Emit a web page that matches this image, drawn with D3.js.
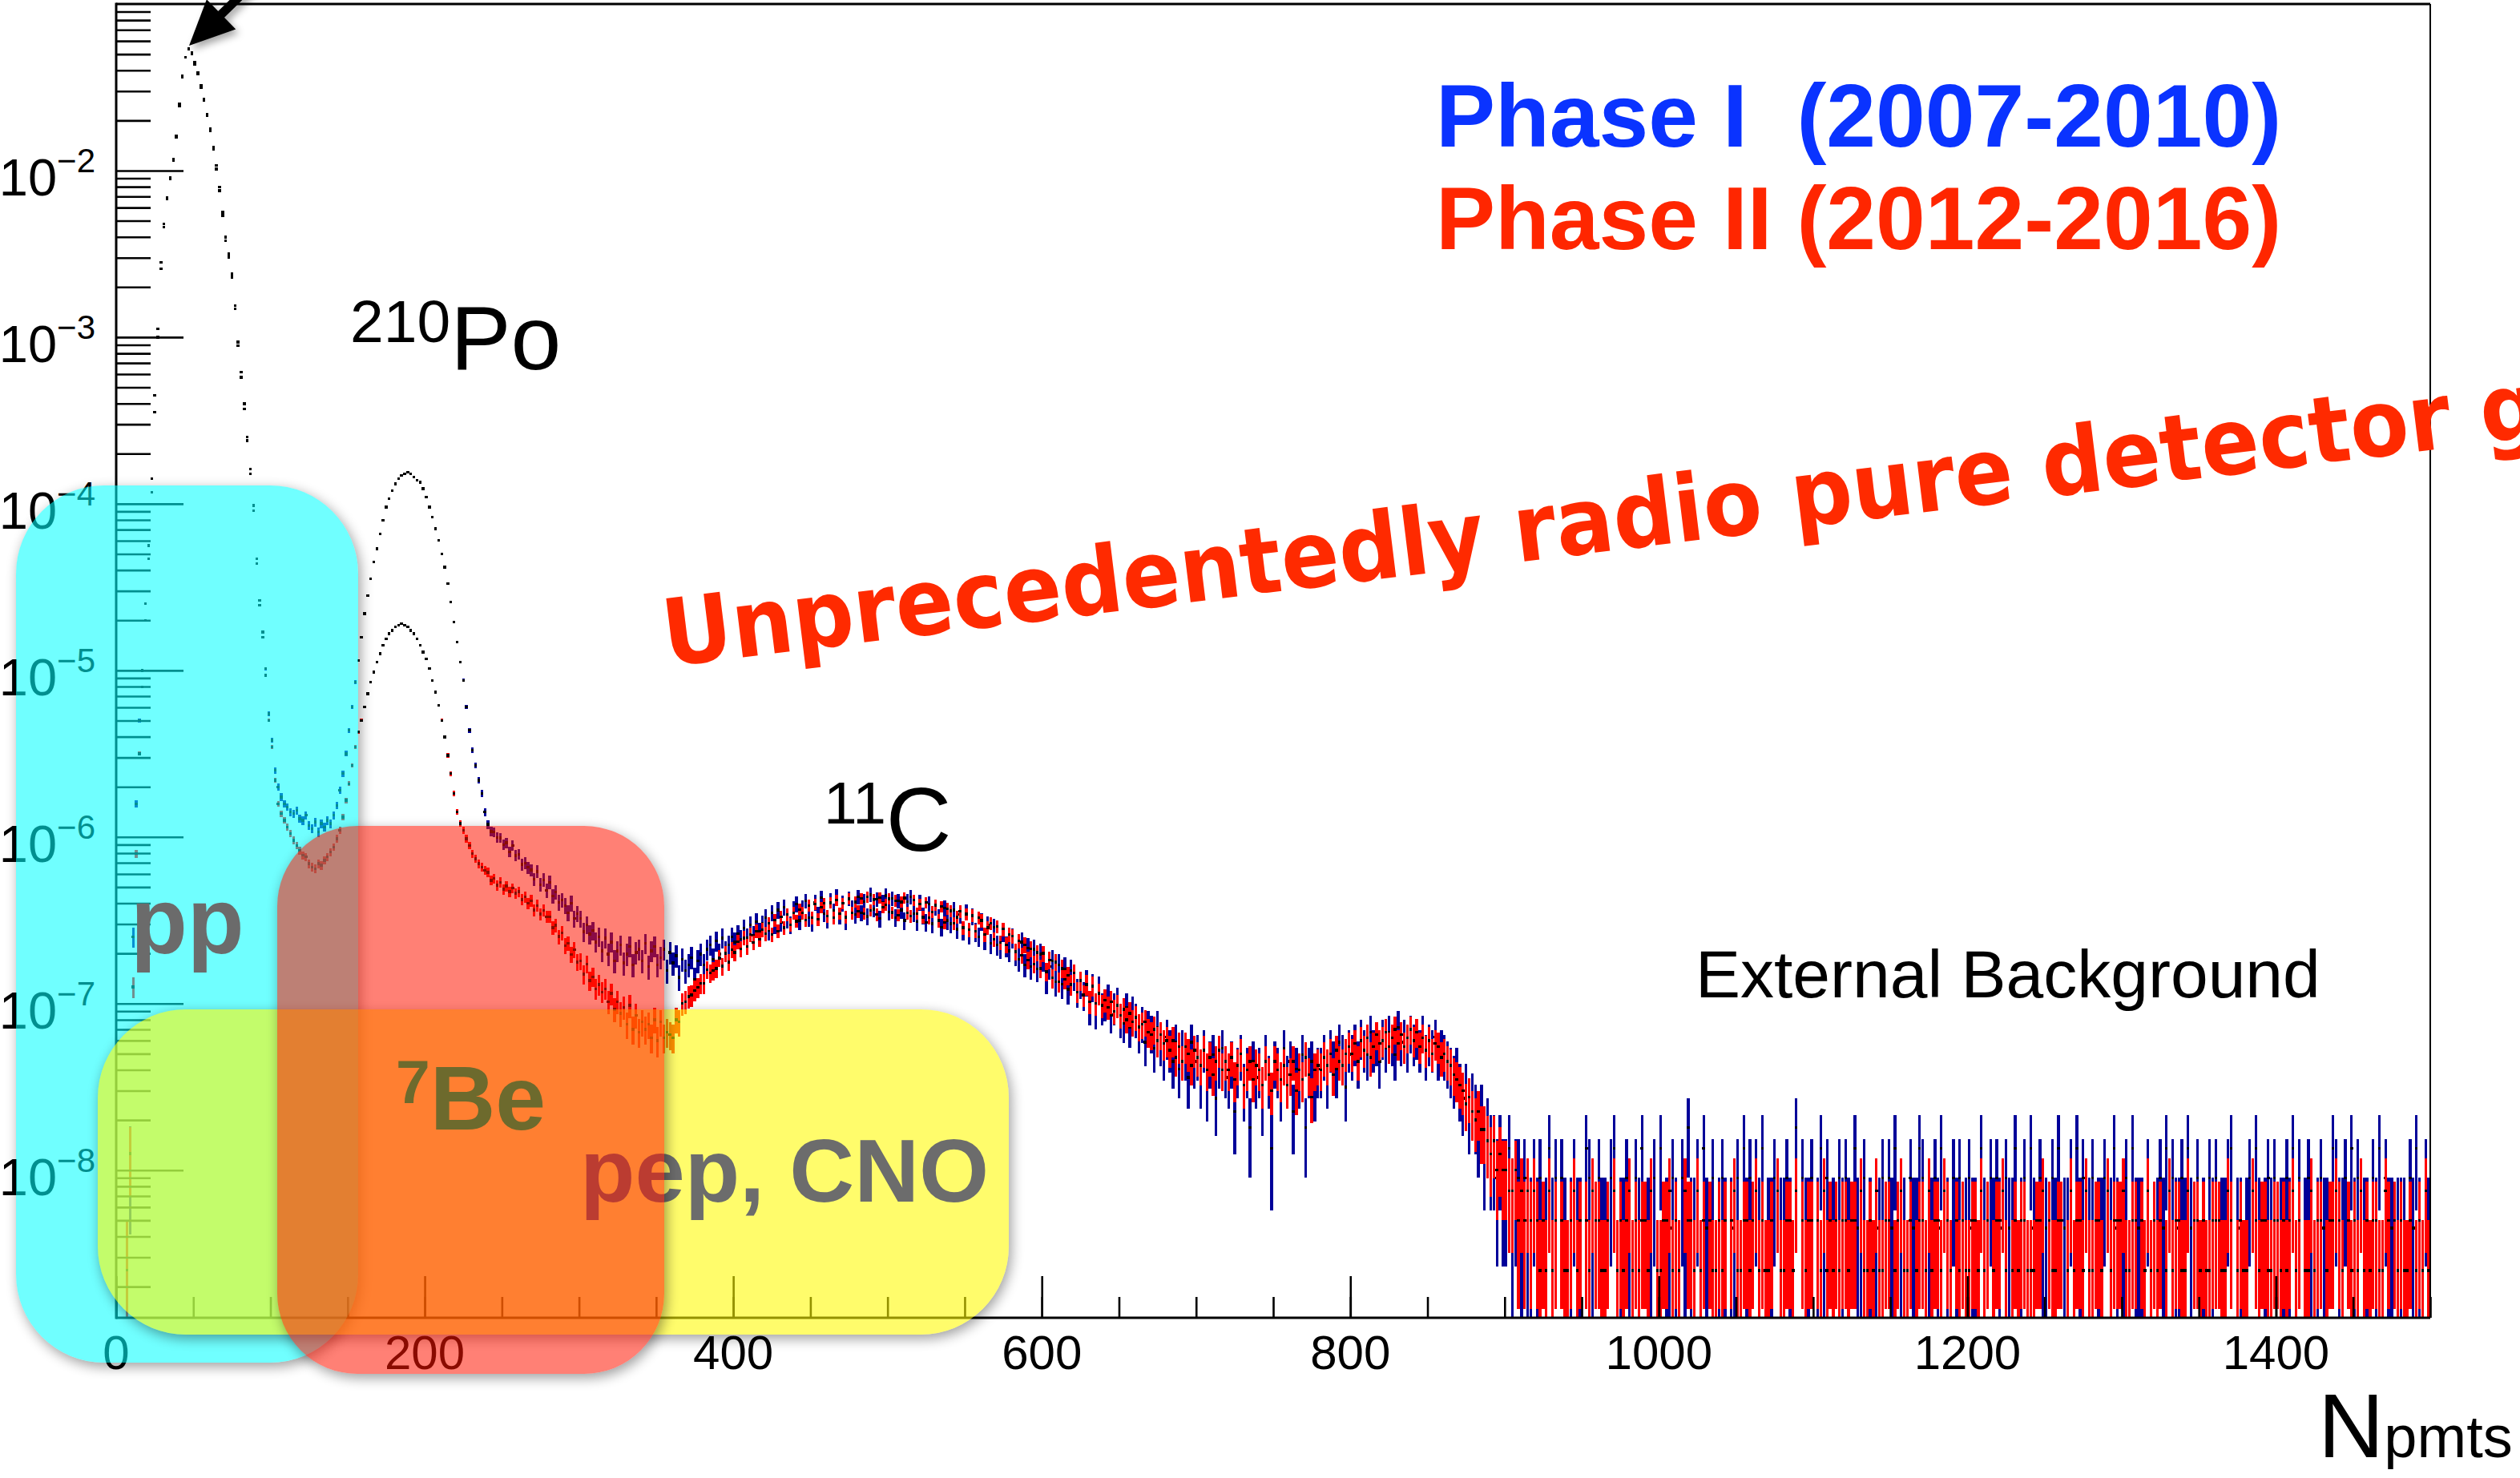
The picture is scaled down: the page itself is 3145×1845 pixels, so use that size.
<!DOCTYPE html>
<html>
<head>
<meta charset="utf-8">
<script src="https://cdn.jsdelivr.net/npm/d3@7"></script>
<style>
  html, body { margin: 0; padding: 0; background: #fff; }
  svg { display: block; }
</style>
</head>
<body>
<div id="chart"></div>
<script>
// ---------------- data ----------------
const binWidth = 2;            // Npmts per bin
const eventWeight1 = 4.5e-9;   // content of one event, Phase I
const eventWeight2 = 2.5e-9;   // content of one event, Phase II

// log10(bin content), bins 0..240 (centres 1,3,...,239); null = empty bin
const phase1LowLog = [
  null, null, null, null, -7.95, -6.60, -5.80, -5.30, -5.00, -4.60,
  -4.25, -3.85, -3.35, -2.95, -2.55, -2.32, -2.16, -2.04, -1.93, -1.79,
  -1.60, -1.43, -1.32, -1.27, -1.29, -1.35, -1.41, -1.49, -1.57, -1.66,
  -1.75, -1.86, -1.97, -2.10, -2.25, -2.40, -2.50, -2.62, -2.81, -3.03,
  -3.21, -3.40, -3.60, -3.79, -4.01, -4.33, -4.58, -4.77, -4.99, -5.26,
  -5.42, -5.60, -5.70, -5.76, -5.80, -5.82, -5.85, -5.86, -5.84, -5.89,
  -5.90, -5.87, -5.93, -5.95, -5.91, -5.97, -5.92, -5.94, -5.90, -5.92,
  -5.87, -5.81, -5.72, -5.62, -5.50, -5.36, -5.22, -5.07, -4.94, -4.80,
  -4.66, -4.55, -4.45, -4.35, -4.27, -4.18, -4.10, -4.02, -3.97, -3.92,
  -3.88, -3.85, -3.83, -3.82, -3.81, -3.82, -3.84, -3.86, -3.87, -3.91,
  -3.96, -4.02, -4.08, -4.15, -4.22, -4.30, -4.38, -4.48, -4.59, -4.71,
  -4.83, -4.95, -5.06, -5.22, -5.36, -5.48, -5.57, -5.66, -5.74, -5.85
];
const phase2LowLog = [
  null, null, null, -8.60, -7.90, -6.90, -6.10, -5.50, -5.10, -4.70,
  -4.33, -3.93, -3.45, -3.00, -2.59, -2.34, -2.17, -2.05, -1.94, -1.80,
  -1.61, -1.44, -1.32, -1.27, -1.30, -1.36, -1.42, -1.50, -1.58, -1.67,
  -1.76, -1.87, -1.99, -2.12, -2.27, -2.42, -2.52, -2.64, -2.83, -3.05,
  -3.24, -3.43, -3.62, -3.82, -4.04, -4.36, -4.61, -4.80, -5.03, -5.30,
  -5.46, -5.66, -5.80, -5.86, -5.90, -5.94, -5.98, -6.02, -6.05, -6.08,
  -6.11, -6.12, -6.16, -6.18, -6.19, -6.16, -6.17, -6.14, -6.12, -6.09,
  -6.06, -6.01, -5.96, -5.88, -5.78, -5.68, -5.57, -5.46, -5.37, -5.30,
  -5.22, -5.14, -5.07, -5.01, -4.95, -4.90, -4.85, -4.81, -4.78, -4.76,
  -4.74, -4.73, -4.72, -4.73, -4.74, -4.76, -4.78, -4.81, -4.85, -4.89,
  -4.93, -4.99, -5.06, -5.13, -5.21, -5.30, -5.40, -5.51, -5.62, -5.74,
  -5.85, -5.92, -5.96, -6.01, -6.05, -6.10, -6.13, -6.16, -6.18, -6.20
];

// event counts, bins 240..920 (centres 241,...,919)
const phase1MidCounts = [
  265, 240, 238, 221, 219, 200, 205, 181, 197, 172,
  175, 152, 155, 146, 141, 124, 138, 115, 123, 106,
  119, 98, 104, 90, 93, 86, 78, 89, 72, 77,
  72, 60, 66, 58, 61, 52, 56, 46, 55, 44,
  52, 40, 46, 50, 39, 44, 49, 38, 45, 47,
  40, 51, 37, 46, 49, 38, 42, 47, 35, 45,
  39, 43, 32, 41, 35, 38, 42, 31, 40, 44,
  38, 47, 50, 41, 53, 44, 55, 46, 50, 56,
  52, 58, 54, 63, 55, 66, 57, 69, 60, 67,
  73, 61, 78, 66, 81, 68, 84, 71, 66, 82,
  88, 70, 83, 92, 73, 68, 90, 76, 96, 77,
  71, 93, 80, 98, 75, 89, 70, 95, 83, 76,
  97, 78, 91, 74, 100, 82, 94, 72, 90, 99,
  79, 95, 73, 92, 81, 70, 91, 97, 77, 69,
  90, 75, 68, 88, 67, 84, 73, 64, 83, 70,
  67, 81, 62, 76, 61, 79, 58, 74, 60, 56,
  69, 54, 66, 51, 64, 50, 48, 60, 49, 46,
  55, 44, 41, 52, 38, 48, 37, 47, 36, 44,
  41, 31, 37, 40, 30, 38, 29, 36, 27, 35,
  32, 26, 29, 25, 30, 21, 28, 20, 27, 21,
  22, 24, 19, 21, 23, 18, 17, 21, 16, 20,
  18, 15, 17, 13, 16, 15, 12, 16, 13, 11,
  14, 12, 10, 13, 9, 12, 11, 8, 13, 10,
  11, 8, 12, 7, 10, 11, 6, 10, 12, 9,
  8, 10, 5, 9, 11, 7, 9, 4, 10, 8,
  9, 6, 11, 8, 3, 10, 9, 7, 12, 8,
  10, 5, 9, 8, 11, 4, 9, 10, 7, 9,
  9, 11, 8, 12, 10, 9, 13, 11, 7, 12,
  11, 13, 10, 14, 12, 11, 15, 12, 13, 10,
  14, 12, 15, 13, 11, 16, 13, 14, 12, 15,
  13, 14, 12, 15, 11, 13, 12, 14, 11, 12,
  11, 10, 9, 8, 9, 7, 6, 7, 5, 6,
  5, 4, 5, 3, 4, 3, 3, 2, 3, 2,
  2, 3, 1, 2, 2, 1, 2, 1, 1, 2
];
const phase2MidCounts = [
  245, 220, 226, 205, 214, 194, 203, 188, 197, 184,
  188, 168, 175, 160, 166, 146, 155, 138, 145, 133,
  133, 114, 118, 101, 106, 89, 92, 79, 84, 71,
  72, 60, 69, 55, 58, 49, 52, 47, 49, 41,
  46, 37, 41, 35, 38, 30, 39, 28, 34, 27,
  31, 28, 30, 25, 32, 24, 31, 25, 27, 26,
  25, 32, 31, 40, 41, 44, 45, 48, 50, 53,
  53, 64, 61, 63, 65, 75, 67, 80, 71, 84,
  81, 94, 85, 99, 88, 104, 93, 109, 97, 111,
  105, 121, 104, 127, 109, 133, 114, 137, 119, 140,
  125, 147, 140, 127, 155, 131, 158, 128, 151, 160,
  134, 161, 131, 167, 139, 160, 132, 170, 140, 163,
  143, 171, 139, 175, 145, 168, 137, 173, 151, 157,
  170, 141, 166, 136, 163, 172, 140, 134, 167, 139,
  158, 132, 162, 131, 142, 156, 126, 153, 123, 148,
  144, 121, 132, 143, 114, 138, 111, 135, 109, 131,
  126, 104, 114, 121, 97, 116, 93, 112, 90, 104,
  102, 82, 95, 78, 90, 73, 85, 69, 81, 65,
  80, 62, 73, 57, 71, 54, 65, 56, 59, 52,
  61, 47, 55, 45, 52, 41, 51, 40, 46, 39,
  42, 38, 41, 36, 39, 34, 37, 32, 35, 31,
  33, 29, 30, 31, 27, 26, 28, 24, 26, 23,
  24, 21, 24, 19, 22, 18, 22, 20, 17, 21,
  19, 17, 21, 16, 19, 15, 18, 21, 16, 18,
  16, 19, 14, 17, 20, 13, 16, 18, 14, 17,
  16, 13, 18, 15, 12, 18, 16, 14, 17, 13,
  15, 18, 12, 16, 14, 19, 15, 11, 16, 17,
  16, 19, 17, 20, 15, 21, 18, 17, 20, 22,
  20, 23, 18, 24, 21, 25, 19, 22, 26, 23,
  24, 27, 22, 25, 28, 23, 26, 22, 25, 28,
  24, 27, 22, 25, 21, 24, 20, 23, 22, 19,
  20, 18, 17, 15, 14, 13, 12, 10, 11, 9,
  8, 9, 7, 7, 6, 5, 6, 4, 5, 4,
  4, 3, 3, 4, 2, 3, 2, 3, 2, 3
];

// event counts, flat external-background tail, bins 920..1500
const phase1TailCounts = [
  1,2,0,1,3,1,2,0,2,1, 0,1,2,1,1,0,3,2,1,0, 2,1,1,0,2,3,0,1,1,2, 1,0,2,1,3,0,1,1,2,0,
  3,0,1,1,2,1,0,2,1,4, 1,1,2,0,3,1,0,2,0,1, 2,1,0,1,1,2,0,3,1,2, 0,2,1,3,0,1,1,2,0,1,
  1,2,1,0,4,0,2,1,1,2, 0,1,3,1,2,0,1,0,2,1, 2,1,0,3,1,1,2,0,1,0, 1,1,2,0,2,1,3,0,1,1,
  0,2,1,1,3,2,0,1,1,2, 1,3,0,1,0,2,1,2,0,1, 2,1,1,0,3,1,0,2,1,2, 1,0,2,1,1,3,0,1,2,0,
  3,1,0,2,1,1,0,2,1,3, 0,1,1,2,0,3,1,2,0,1, 2,0,1,1,2,0,1,3,1,0, 1,2,0,3,1,1,1,0,2,0,
  0,1,2,1,3,0,2,1,1,2, 1,3,1,0,2,0,1,0,2,1, 2,0,1,1,2,3,0,1,1,0, 1,2,0,3,1,0,1,2,1,2,
  0,1,1,2,1,3,0,2,0,1, 2,1,0,1,2,1,1,0,3,2, 1,1,2,0,3,1,2,0,1,1, 0,2,1,3,0,2,1,1,0,1,
  1,1,0,2,1,3,1,0,2,1
];
const phase2TailCounts = [
  2,1,2,1,3,1,2,0,2,1, 1,2,3,1,2,0,2,1,3,2, 2,1,1,2,0,3,1,2,1,2, 3,1,2,1,2,2,1,3,0,1,
  1,2,2,3,1,2,1,0,3,2, 2,1,3,1,2,0,2,1,1,2, 1,2,0,2,3,1,1,2,2,1, 2,3,1,2,1,1,2,0,3,1,
  1,2,2,1,3,0,2,1,2,2, 0,2,1,3,1,2,1,2,1,2, 2,1,2,2,0,3,1,1,2,1, 3,1,1,2,2,0,1,2,3,1,
  1,2,0,1,2,2,1,3,1,2, 2,1,3,2,1,0,2,1,2,1, 1,2,2,1,3,1,2,0,1,2, 2,3,1,0,1,2,1,2,2,1,
  1,1,2,2,3,0,2,1,1,2, 2,0,1,3,1,2,2,1,3,1, 1,2,2,1,0,3,1,2,2,2, 3,1,1,2,2,0,2,1,3,1,
  2,1,2,0,1,3,1,2,2,1, 1,3,0,2,2,1,2,1,1,2, 2,2,1,1,3,2,0,1,2,1, 1,0,3,2,1,2,2,1,1,2,
  2,1,2,1,2,3,1,2,0,1, 1,3,1,2,2,0,1,2,2,3, 2,1,0,2,1,2,1,3,1,2, 1,2,2,1,1,3,2,0,2,1,
  2,1,1,2,0,1,2,1,3,1
];

const xTickValues = [0, 200, 400, 600, 800, 1000, 1200, 1400];
const yDecades = [-2, -3, -4, -5, -6, -7, -8];
const xDomain = [0, 1500];
const yDomain = [1.3e-9, 0.1];

// ---------------- drawing ----------------
const W = 3145, H = 1845;
const frame = { left: 145, right: 3033, top: 5, bottom: 1645 };
const helv = "'Liberation Sans', Arial, Helvetica, sans-serif";

const x = d3.scaleLinear().domain(xDomain).range([frame.left, frame.right]);
const y = d3.scaleLog().domain(yDomain).range([frame.bottom, frame.top]).clamp(true);

const svg = d3.select("#chart").append("svg")
  .attr("width", W).attr("height", H)
  .attr("viewBox", [0, 0, W, H]);
svg.append("rect").attr("width", W).attr("height", H).attr("fill", "#fff");

const defs = svg.append("defs");
defs.append("clipPath").attr("id", "plotclip")
  .append("rect")
  .attr("x", frame.left).attr("y", frame.top)
  .attr("width", frame.right - frame.left).attr("height", frame.bottom - frame.top);
const blur = defs.append("filter").attr("id", "blur")
  .attr("x", "-30%").attr("y", "-30%").attr("width", "160%").attr("height", "160%");
blur.append("feGaussianBlur").attr("stdDeviation", 8);
const drop = defs.append("filter").attr("id", "drop")
  .attr("x", "-50%").attr("y", "-10%").attr("width", "200%").attr("height", "120%");
drop.append("feDropShadow").attr("dx", 4).attr("dy", 5).attr("stdDeviation", 5)
  .attr("flood-color", "#000").attr("flood-opacity", 0.35);

function buildBins(lowLog, mid, tail, w) {
  const out = [];
  lowLog.forEach((l, i) => {
    if (l === null) return;
    const v = Math.pow(10, l);
    out.push({ c: (i + 0.5) * binWidth, v: v, n: v / w });
  });
  const start = lowLog.length;
  mid.concat(tail).forEach((n, i) => {
    if (!n) return;
    out.push({ c: (start + i + 0.5) * binWidth, v: n * w, n: n });
  });
  out.forEach(b => {
    const e = Math.sqrt(b.n) * w;
    b.hi = b.v + e;
    b.lo = Math.max(b.v - e, yDomain[0]);
  });
  return out;
}

const phase1 = buildBins(phase1LowLog, phase1MidCounts, phase1TailCounts, eventWeight1);
const phase2 = buildBins(phase2LowLog, phase2MidCounts, phase2TailCounts, eventWeight2);

const plot = svg.append("g").attr("clip-path", "url(#plotclip)");
const barW = 3.3;

function drawHist(data, color) {
  const g = plot.append("g");
  g.selectAll("rect.err").data(data).join("rect")
    .attr("class", "err")
    .attr("x", d => x(d.c) - barW / 2)
    .attr("width", barW)
    .attr("y", d => y(d.hi))
    .attr("height", d => Math.max(y(d.lo) - y(d.hi), 1.5))
    .attr("fill", color)
    .attr("shape-rendering", "crispEdges");
  g.selectAll("rect.mk").data(data).join("rect")
    .attr("class", "mk")
    .attr("x", d => x(d.c) - 1.7)
    .attr("y", d => y(d.v) - 1.7)
    .attr("width", 3.4).attr("height", 3.4)
    .attr("fill", "#000")
    .attr("shape-rendering", "crispEdges");
}
drawHist(phase1, "#000099");
drawHist(phase2, "#ff0000");

// ---- axes ----
const axes = svg.append("g");
const yMinor = [], yMajor = [];
for (let k = -9; k <= -2; k++) {
  for (let m = 1; m <= 9; m++) {
    const v = m * Math.pow(10, k);
    if (v < yDomain[0] || v > yDomain[1]) continue;
    (m === 1 ? yMajor : yMinor).push(v);
  }
}
axes.append("g").attr("transform", `translate(${frame.left},0)`)
  .call(d3.axisRight(y).tickValues(yMinor).tickSize(43).tickFormat(""))
  .call(g => g.select(".domain").remove());
axes.append("g").attr("transform", `translate(${frame.left},0)`)
  .call(d3.axisRight(y).tickValues(yMajor).tickSize(84).tickFormat(""))
  .call(g => g.select(".domain").remove());
axes.append("g").attr("transform", `translate(0,${frame.bottom})`)
  .call(d3.axisTop(x).tickValues(d3.range(0, 1501, 50)).tickSize(26).tickFormat(""))
  .call(g => g.select(".domain").remove());
axes.append("g").attr("transform", `translate(0,${frame.bottom})`)
  .call(d3.axisTop(x).tickValues(xTickValues).tickSize(52).tickFormat(""))
  .call(g => g.select(".domain").remove());
axes.selectAll(".tick line").attr("stroke", "#000").attr("stroke-width", 2.6);

// frame
axes.append("line").attr("x1", frame.left).attr("x2", frame.right)
  .attr("y1", frame.top).attr("y2", frame.top).attr("stroke", "#000").attr("stroke-width", 3);
axes.append("line").attr("x1", frame.right).attr("x2", frame.right)
  .attr("y1", frame.top).attr("y2", frame.bottom).attr("stroke", "#000").attr("stroke-width", 2);
axes.append("line").attr("x1", frame.left).attr("x2", frame.left)
  .attr("y1", frame.top - 1.5).attr("y2", frame.bottom + 1.5).attr("stroke", "#000").attr("stroke-width", 3);
axes.append("line").attr("x1", frame.left).attr("x2", frame.right)
  .attr("y1", frame.bottom).attr("y2", frame.bottom).attr("stroke", "#000").attr("stroke-width", 3);

// y labels 10^k
yDecades.forEach(k => {
  const t = axes.append("text")
    .attr("x", 119).attr("y", y(Math.pow(10, k)) + 31)
    .attr("text-anchor", "end")
    .attr("font-family", helv).attr("fill", "#000");
  t.append("tspan").attr("font-size", 65).text("10");
  t.append("tspan").attr("font-size", 42).attr("dy", -29).text("\u2212" + Math.abs(k));
});
// x labels
xTickValues.forEach(v => {
  axes.append("text")
    .attr("x", x(v)).attr("y", 1709)
    .attr("text-anchor", "middle")
    .attr("font-family", helv).attr("font-size", 60).attr("fill", "#000")
    .text(v);
});
const xt = axes.append("text").attr("x", 2893).attr("y", 1819)
  .attr("font-family", helv).attr("fill", "#000");
xt.append("tspan").attr("font-size", 114).text("N");
xt.append("tspan").attr("font-size", 74).text("pmts");

// ---- dashed cut line ----
svg.append("line")
  .attr("x1", x(106.7)).attr("x2", x(106.7))
  .attr("y1", 32).attr("y2", 1716)
  .attr("stroke", "#000").attr("stroke-width", 13)
  .attr("stroke-dasharray", "26 27")
  .attr("filter", "url(#drop)");

// ---- highlighted regions ----
function region(id, r, fill) {
  const m = defs.append("mask").attr("id", "mask-" + id)
    .attr("maskUnits", "userSpaceOnUse")
    .attr("x", 0).attr("y", 0).attr("width", W).attr("height", H);
  m.append("rect").attr("width", W).attr("height", H).attr("fill", "#fff");
  m.append("rect").attr("x", r.x).attr("y", r.y).attr("width", r.w).attr("height", r.h)
    .attr("rx", r.rx).attr("fill", "#000");
  svg.append("g").attr("mask", `url(#mask-${id})`)
    .append("rect")
    .attr("x", r.x + 3).attr("y", r.y + 5).attr("width", r.w).attr("height", r.h)
    .attr("rx", r.rx).attr("fill", "#000").attr("opacity", 0.38)
    .attr("filter", "url(#blur)");
  svg.append("rect")
    .attr("x", r.x).attr("y", r.y).attr("width", r.w).attr("height", r.h)
    .attr("rx", r.rx).attr("fill", fill);
}

function boxLabel(xp, yp, size, color, sup, main) {
  const t = svg.append("text").attr("x", xp).attr("y", yp)
    .attr("font-family", helv).attr("font-weight", "bold").attr("fill", color);
  if (sup) t.append("tspan").attr("font-size", size * 0.68).attr("dy", -33).text(sup);
  t.append("tspan").attr("font-size", size).attr("dy", sup ? 33 : 0).text(main);
}

region("pp", { x: 20, y: 606, w: 427, h: 1095, rx: 110 }, "rgba(0,255,255,0.56)");
region("cno", { x: 122, y: 1260, w: 1137, h: 406, rx: 110 }, "rgba(255,250,0,0.58)");
boxLabel(724, 1500, 112, "#6c6c6c", null, "pep, CNO");
region("be", { x: 346, y: 1031, w: 483, h: 684, rx: 100 }, "rgba(255,20,0,0.54)");
boxLabel(163, 1190, 116, "#6b6b6b", null, "pp");
boxLabel(494, 1410, 113, "#6d6a2d", "7", "Be");

// ---- arrow to the main peak ----
const tip = [236, 57], dir = [0.716, -0.698], nrm = [0.698, 0.716];
const base = [tip[0] + 56 * dir[0], tip[1] + 56 * dir[1]];
const arrow = svg.append("g").attr("filter", "url(#drop)");
arrow.append("line")
  .attr("x1", base[0] - 4 * dir[0]).attr("y1", base[1] - 4 * dir[1])
  .attr("x2", tip[0] + 220 * dir[0]).attr("y2", tip[1] + 220 * dir[1])
  .attr("stroke", "#000").attr("stroke-width", 11);
arrow.append("polygon")
  .attr("points", [
    tip,
    [base[0] + 26 * nrm[0], base[1] + 26 * nrm[1]],
    [base[0] - 26 * nrm[0], base[1] - 26 * nrm[1]]
  ].map(p => p.join(",")).join(" "))
  .attr("fill", "#000");

// ---- peak labels ----
function isotope(xp, yp, mass, name) {
  const t = svg.append("text").attr("x", xp).attr("y", yp)
    .attr("font-family", helv).attr("fill", "#000");
  t.append("tspan").attr("font-size", 75).text(mass);
  t.append("tspan").attr("font-size", 113).attr("dy", 34).text(name);
}
isotope(437, 427, "210", "Po");
isotope(1028, 1028, "11", "C");

svg.append("text").attr("x", 2116).attr("y", 1245)
  .attr("font-family", helv).attr("font-size", 84).attr("fill", "#000")
  .text("External Background");

// ---- legend ----
svg.append("text").attr("x", 1792).attr("y", 183)
  .attr("font-family", helv).attr("font-weight", "bold").attr("font-size", 111)
  .attr("fill", "#0a33ff").attr("xml:space", "preserve")
  .text("Phase I  (2007-2010)");
svg.append("text").attr("x", 1792).attr("y", 311)
  .attr("font-family", helv).attr("font-weight", "bold").attr("font-size", 111)
  .attr("fill", "#ff2600")
  .text("Phase II (2012-2016)");

// ---- slogan (runs off the right edge, as in the original slide) ----
svg.append("text")
  .attr("x", 832).attr("y", 832)
  .attr("transform", "rotate(-7 832 832)")
  .attr("font-family", "'DejaVu Sans', Verdana, sans-serif")
  .attr("font-weight", "bold").attr("font-size", 116)
  .attr("textLength", 2361).attr("lengthAdjust", "spacingAndGlyphs")
  .attr("fill", "#ff2a00")
  .text("Unprecedentedly radio pure detector g");
</script>
</body>
</html>
